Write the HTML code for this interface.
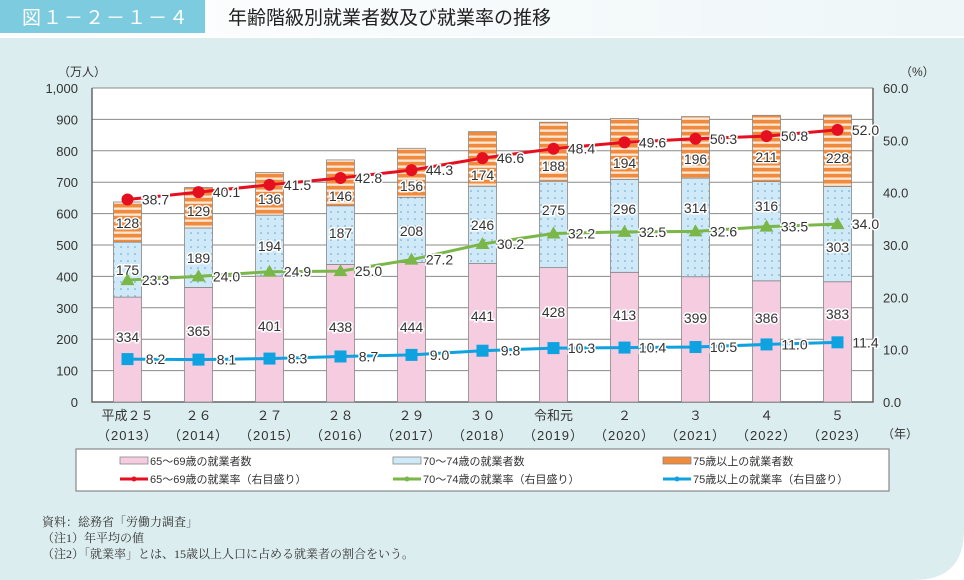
<!DOCTYPE html>
<html><head><meta charset="utf-8">
<style>
html,body{margin:0;padding:0;width:964px;height:580px;overflow:hidden;background:#fff;font-family:"Liberation Sans","Noto Sans CJK JP",sans-serif;}
</style></head><body>
<svg id="s" width="964" height="580" xmlns="http://www.w3.org/2000/svg" font-family="Liberation Sans, Noto Sans CJK JP, sans-serif">
<defs>
<linearGradient id="hg" x1="0" x2="1" y1="0" y2="0"><stop offset="0" stop-color="#ffffff"/><stop offset="1" stop-color="#eef6f8"/></linearGradient>
<pattern id="stripe" width="8" height="6" patternUnits="userSpaceOnUse"><rect width="8" height="6" fill="#f08a3c"/><rect y="3.5" width="8" height="2.3" fill="#fde8d6"/></pattern>
<pattern id="dots" width="7" height="7" patternUnits="userSpaceOnUse"><rect width="7" height="7" fill="#cfe9f8"/><circle cx="2" cy="2" r="0.8" fill="#5aa6d0"/></pattern>
</defs>
<rect x="0" y="0" width="964" height="36" fill="url(#hg)"/>
<rect x="0" y="0" width="205" height="33" fill="#7ccbdf"/>
<text x="22" y="24" font-size="19" fill="#fff" letter-spacing="2">図１－２－１－４</text>
<text x="228" y="24" font-size="19" fill="#222">年齢階級別就業者数及び就業率の推移</text>
<path d="M0 38 H964 V530 Q964 580 914 580 H0 Z" fill="#dcedf0"/>
<g id="chart"></g>
</svg>
<script>
(function(){
const g=document.getElementById('chart');let h='';
const L=92,R=873,T=88,B=402;
const yL=v=>B-(v/1000)*(B-T), yR=v=>B-(v/60)*(B-T);
h+=`<rect x="${L}" y="${T}" width="${R-L}" height="${B-T}" fill="#fff"/>`;
for(let i=0;i<=10;i++){const y=T+i*(B-T)/10;h+=`<line x1="${L}" x2="${R}" y1="${y}" y2="${y}" stroke="#8a8a8a" stroke-width="1"/>`;
h+=`<text x="78" y="${y+5}" font-size="13" text-anchor="end" fill="#333">${(1000-i*100).toLocaleString('en-US')}</text>`;}
for(let i=0;i<=6;i++){const y=T+i*(B-T)/6;h+=`<text x="883" y="${y+5}" font-size="13" fill="#333">${(60-i*10).toFixed(1)}</text>`;}
h+=`<text x="58" y="76" font-size="12" fill="#333">（万人）</text><text x="900" y="76" font-size="12" fill="#333">（%）</text>`;
h+=`<path d="M${L} ${T} V${B} H${R} V${T}" fill="none" stroke="#666" stroke-width="1.5"/>`;
const a=[334,365,401,438,444,441,428,413,399,386,383],b=[175,189,194,187,208,246,275,296,314,316,303],c=[128,129,136,146,156,174,188,194,196,211,228];
const ya=[337,331,326,327,327,316,312,315,318,318,314],yb=[270,258,246,233,231,225,210,209,208,206,247],yc=[223,211,199,196,186,175,166,163,159,157,158];
const r=[38.7,40.1,41.5,42.8,44.3,46.6,48.4,49.6,50.3,50.8,52.0],gr=[23.3,24.0,24.9,25.0,27.2,30.2,32.2,32.5,32.6,33.5,34.0],bl=[8.2,8.1,8.3,8.7,9.0,9.8,10.3,10.4,10.5,11.0,11.4];
const tops=['平成２５','２６','２７','２８','２９','３０','令和元','２','３','４','５'];
const cx=i=>127.5+i*71;
const lab=(x,y,t)=>`<text x="${x}" y="${y}" font-size="14" text-anchor="middle" fill="#333" stroke="#fff" stroke-width="3" paint-order="stroke">${t}</text>`;
for(let i=0;i<11;i++){const x=cx(i)-14,y1=yL(a[i]),y2=yL(a[i]+b[i]),y3=yL(a[i]+b[i]+c[i]);
h+=`<rect x="${x}" y="${y1}" width="28" height="${B-y1}" fill="#f6cde0" stroke="#888" stroke-width="0.8"/>`;
h+=`<rect x="${x}" y="${y2}" width="28" height="${y1-y2}" fill="url(#dots)" stroke="#888" stroke-width="0.8"/>`;
h+=`<rect x="${x}" y="${y3}" width="28" height="${y2-y3}" fill="url(#stripe)" stroke="#888" stroke-width="0.8"/>`;
h+=lab(cx(i),ya[i]+5,a[i])+lab(cx(i),yb[i]+5,b[i])+lab(cx(i),yc[i]+5,c[i]);
h+=`<text x="${cx(i)}" y="420" font-size="13" text-anchor="middle" fill="#333">${tops[i]}</text>`;
h+=`<text x="${cx(i)}" y="440" font-size="13" text-anchor="middle" fill="#333" letter-spacing="1">（${2013+i}）</text>`;}
h+=`<text x="882" y="438" font-size="12" fill="#333">（年）</text>`;
function series(d,col,mk){let p=d.map((v,i)=>`${cx(i)},${yR(v)}`).join(' ');
let s=`<polyline points="${p}" fill="none" stroke="${col}" stroke-width="3"/>`;
d.forEach((v,i)=>{const x=cx(i),y=yR(v);
if(mk=='c')s+=`<circle cx="${x}" cy="${y}" r="6" fill="${col}"/>`;
if(mk=='t')s+=`<polygon points="${x},${y-7} ${x-7},${y+5} ${x+7},${y+5}" fill="${col}"/>`;
if(mk=='s')s+=`<rect x="${x-6}" y="${y-6}" width="12" height="12" fill="${col}"/>`;
s+=`<text x="${x+28}" y="${y+5}" font-size="14" text-anchor="middle" fill="#333" stroke="#fff" stroke-width="3" paint-order="stroke">${v.toFixed(1)}</text>`;});return s;}
h+=series(r,'#e60f1f','c')+series(gr,'#7ab648','t')+series(bl,'#0ea2e0','s');
h+=`<rect x="76" y="449" width="813" height="42" fill="#fff" stroke="#888" stroke-width="1.2"/>`;
const lg=[[120,'65～69歳の就業者数','#f6cde0'],[393,'70～74歳の就業者数','#cfe9f8'],[663,'75歳以上の就業者数','#f08a3c']];
lg.forEach(([x,t,f])=>{h+=`<rect x="${x}" y="457" width="28" height="7" fill="${f}" stroke="#888" stroke-width="0.8"/><text x="${x+30}" y="465" font-size="11" fill="#333">${t}</text>`;});
const ll=[[120,'65～69歳の就業率（右目盛り）','#e60f1f'],[393,'70～74歳の就業率（右目盛り）','#7ab648'],[663,'75歳以上の就業率（右目盛り）','#0ea2e0']];
ll.forEach(([x,t,f])=>{h+=`<line x1="${x}" x2="${x+28}" y1="479" y2="479" stroke="${f}" stroke-width="3"/><circle cx="${x+14}" cy="479" r="2.5" fill="${f}"/><text x="${x+30}" y="483" font-size="11" fill="#333">${t}</text>`;});
const nf='font-family="Liberation Serif, Noto Serif CJK SC, serif" font-size="12" fill="#333"';
h+=`<text x="42" y="526" ${nf}>資料：総務省「労働力調査」</text><text x="42" y="542" ${nf}>（注1）年平均の値</text><text x="42" y="558" ${nf}>（注2）「就業率」とは、15歳以上人口に占める就業者の割合をいう。</text>`;
g.innerHTML=h;
})();
</script>
</body></html>
